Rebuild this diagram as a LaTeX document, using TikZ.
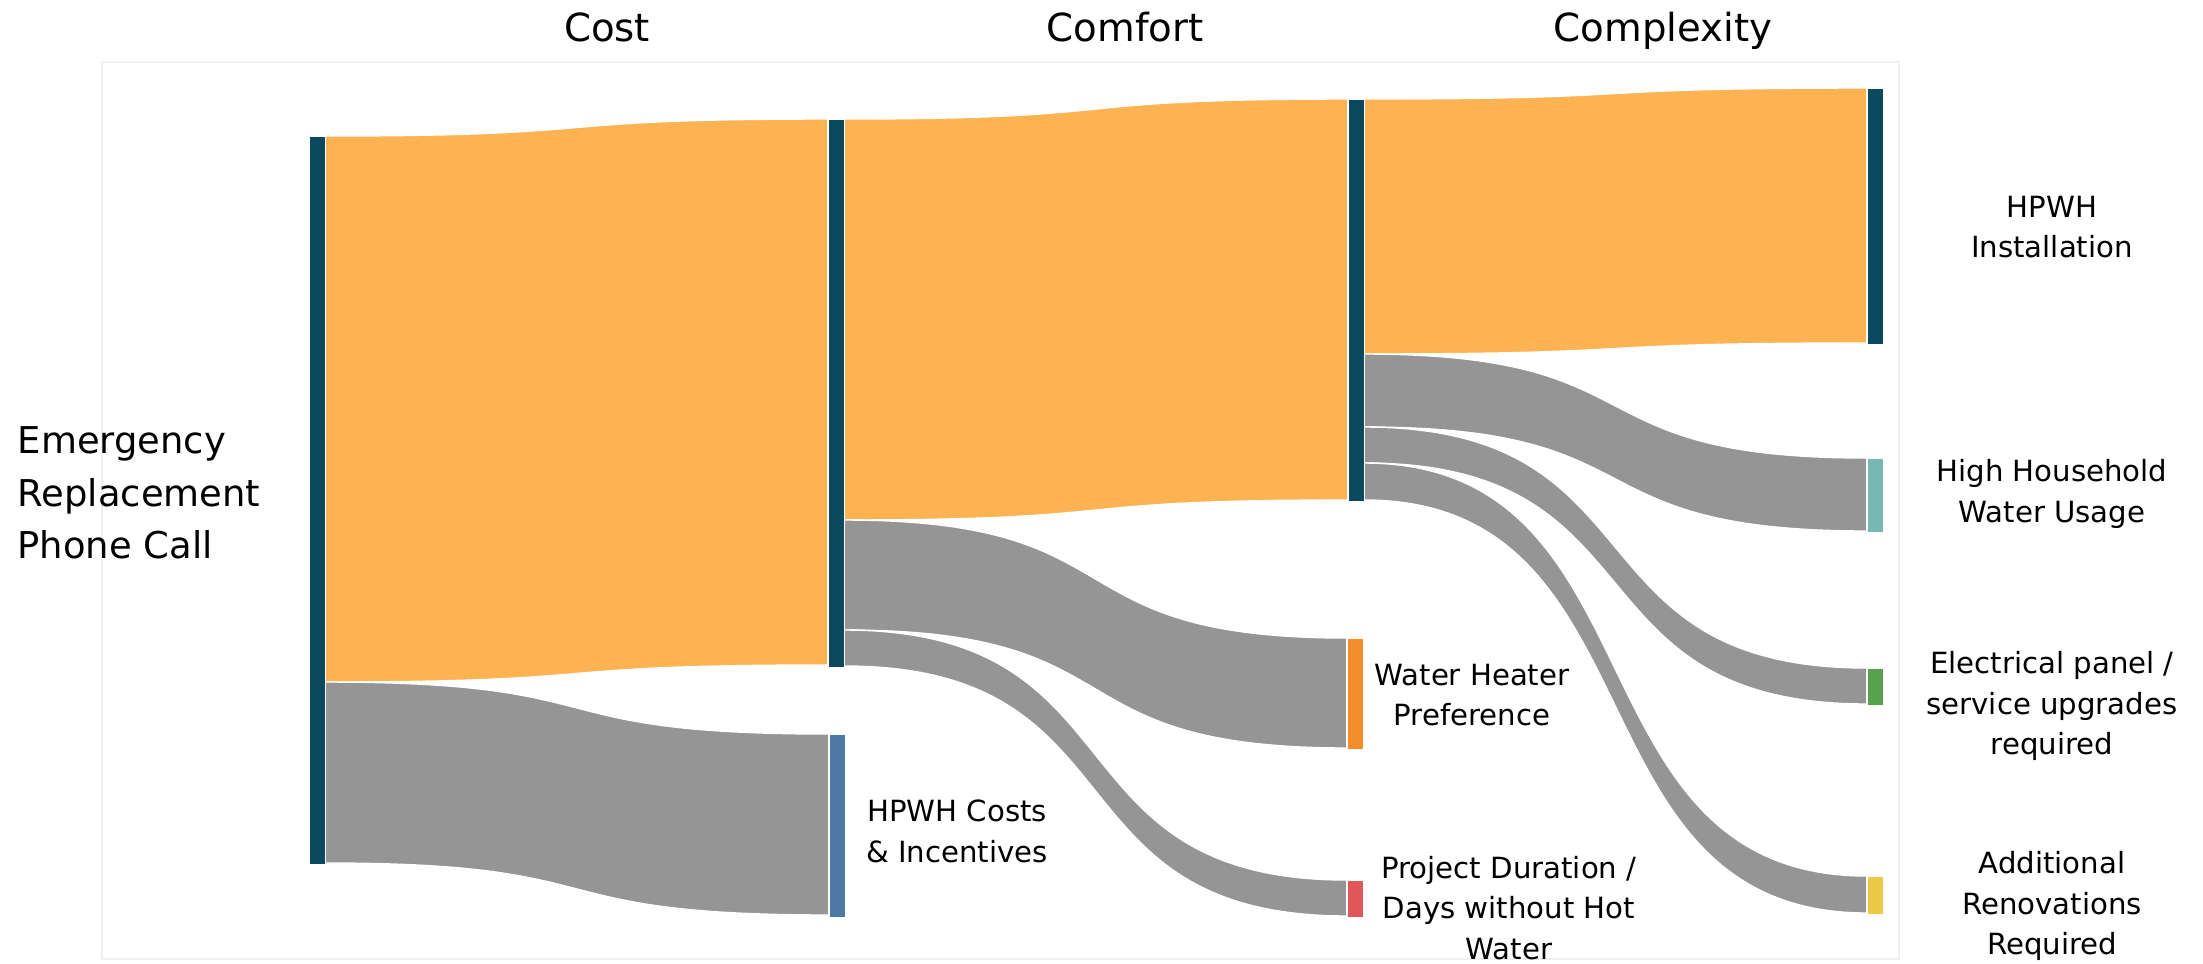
\documentclass[tikz,border=0pt]{standalone}
\usepackage{fontspec}
\setmainfont{DejaVu Sans}
\usepackage{tikz}
\usetikzlibrary{calc}
\usetikzlibrary{backgrounds}

\definecolor{nodeblue}{RGB}{11,74,94}
\definecolor{floworange}{RGB}{253,179,82}
\definecolor{flowgray}{RGB}{149,149,149}
\definecolor{costblue}{RGB}{78,121,167}
\definecolor{prefor}{RGB}{242,142,43}
\definecolor{durred}{RGB}{225,87,89}
\definecolor{useteal}{RGB}{118,183,178}
\definecolor{panelgreen}{RGB}{89,161,79}
\definecolor{renovyellow}{RGB}{237,201,72}

\newcommand{\sflow}[6]{%
  \path[flow, fill=#6] let \p1=($(#1.north east)+(0,#2)$), \p2=($(#3.north west)+(0,#4)$),
    \p3=($(#1.north east)+(0,{#2+#5})$), \p4=($(#3.north west)+(0,{#4+#5})$),
    \p5=($(\p1)!.6!(\p2)$), \p6=($(\p1)!.4!(\p2)$) in
    (\p1) .. controls (\x5,\y1) and (\x6,\y2) .. (\p2) -- (\p4)
    .. controls (\x6,\y4) and (\x5,\y3) .. (\p3) -- cycle;}

\begin{document}
\begin{tikzpicture}[x=0.01cm, y=-0.01cm,
    bar/.style={rectangle, inner sep=0pt, minimum width=0.15cm, anchor=north},
    flow/.style={draw=white, line width=0.4pt},
    head/.style={font=\fontsize{11}{13}\selectfont, anchor=base, inner sep=0pt},
    lbl/.style={font=\fontsize{8.3}{11.6}\selectfont, align=center, inner sep=0pt},
    biglbl/.style={font=\fontsize{10.5}{14.9}\selectfont, align=left, anchor=west, inner sep=0pt}
    ]
    \useasboundingbox (0,0) rectangle (2203,963);

    \node[head] (hcost) at (607,41) {Cost};
    \node[head] (hcomfort) at (1125,41) {Comfort};
    \node[head] (hcomplex) at (1663,41) {Complexity};

    \node[bar, fill=nodeblue, minimum height=7.27cm] (emg) at (317,136) {};
    \node[bar, fill=nodeblue, minimum height=5.47cm] (cost) at (836,119) {};
    \node[bar, fill=costblue, minimum height=1.82cm] (costinc) at (837,734) {};
    \node[bar, fill=nodeblue, minimum height=4.01cm] (comf) at (1356,99) {};
    \node[bar, fill=prefor, minimum height=1.10cm] (whp) at (1355,638) {};
    \node[bar, fill=durred, minimum height=0.36cm] (projdur) at (1355,880) {};
    \node[bar, fill=nodeblue, minimum height=2.55cm] (inst) at (1875,88) {};
    \node[bar, fill=useteal, minimum height=0.73cm] (household) at (1875,458) {};
    \node[bar, fill=panelgreen, minimum height=0.36cm] (panel) at (1875,668) {};
    \node[bar, fill=renovyellow, minimum height=0.37cm] (renov) at (1875,876) {};

    \begin{scope}[on background layer]
      \draw[black!6, line width=0.6pt] (102,62) rectangle (1899,959);
      \sflow{emg}{0}{cost}{0}{546}{floworange}
      \sflow{emg}{546}{costinc}{0}{181}{flowgray}
      \sflow{cost}{0}{comf}{0}{401}{floworange}
      \sflow{cost}{401}{whp}{0}{110}{flowgray}
      \sflow{cost}{511}{projdur}{0}{36}{flowgray}
      \sflow{comf}{0}{inst}{0}{255}{floworange}
      \sflow{comf}{255}{household}{0}{73}{flowgray}
      \sflow{comf}{328}{panel}{0}{36}{flowgray}
      \sflow{comf}{364}{renov}{0}{37}{flowgray}
    \end{scope}

    \node[biglbl] (emglbl) at (17,493) {Emergency\\Replacement\\Phone Call};
    \node[lbl] (costinclbl) at (957,831) {HPWH Costs\\\& Incentives};
    \node[lbl] (whplbl) at (1472,695) {Water Heater\\Preference};
    \node[lbl] (projdurlbl) at (1509,908) {Project Duration /\\Days without Hot\\Water};
    \node[lbl] (instlbl) at (2052,227) {HPWH\\Installation};
    \node[lbl] (householdlbl) at (2052,494) {High Household\\Water Usage};
    \node[lbl] (panellbl) at (2052,706) {Electrical panel /\\service upgrades\\required};
    \node[lbl] (renovlbl) at (2052,906) {Additional\\Renovations\\Required};
\end{tikzpicture}
\end{document}
